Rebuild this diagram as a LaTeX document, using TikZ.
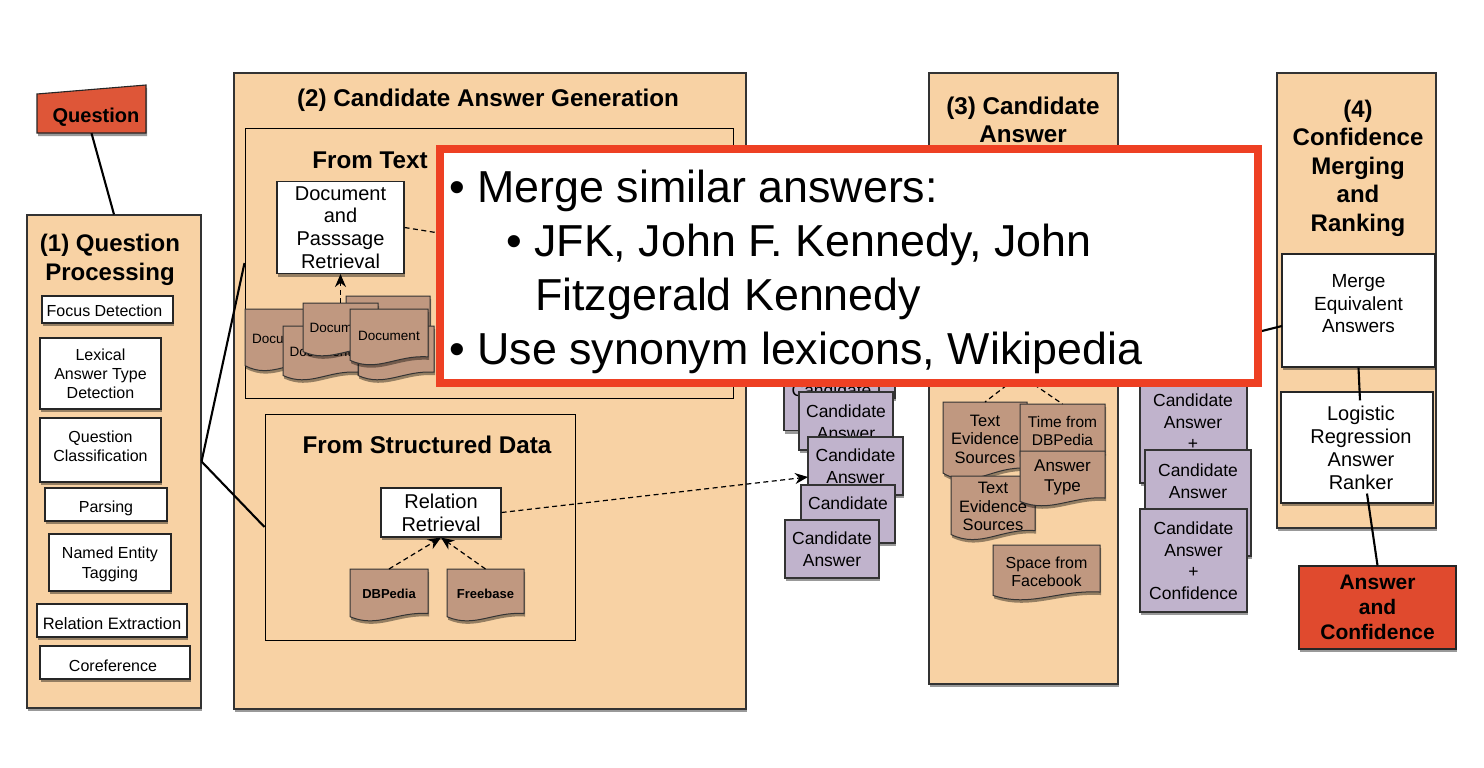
\documentclass[tikz,border=0pt]{standalone}
\usepackage{fontspec}
\setmainfont{Liberation Sans}
\usepackage{tikz}
\usetikzlibrary{arrows.meta, calc, shadows}

\definecolor{tanfill}{HTML}{F8D2A4}
\definecolor{docfill}{HTML}{C09880}
\definecolor{candfill}{HTML}{C0B3CC}
\definecolor{qred}{HTML}{DE5638}
\definecolor{ansred}{HTML}{E04A2E}
\definecolor{framered}{HTML}{EE4023}

\tikzset{
  sz/.style 2 args={font=\fontsize{#1}{#2}\selectfont},
  softshadow/.style={drop shadow={shadow xshift=1pt, shadow yshift=-3pt, fill=black, opacity=0.4}},
  tanbox/.style={draw=black!80, fill=tanfill, line width=1.1pt, inner sep=0pt, softshadow},
  innerframe/.style={draw=black, line width=1pt, inner sep=0pt},
  whitebox/.style={draw=black!85, fill=white, line width=1.1pt, inner sep=0pt, align=center, softshadow},
  candbox/.style={draw=black!80, fill=candfill, line width=1.1pt, inner sep=0pt, align=center, softshadow, sz={17.5}{21.5}},
  docsheet/.style={draw=black!80, fill=docfill, line width=1pt, softshadow},
  title/.style={align=center, inner sep=0pt, font=\bfseries\fontsize{24.2}{28.5}\selectfont},
  link/.style={draw=black, line width=2.1pt},
  dashlink/.style={draw=black, line width=1.2pt, dash pattern=on 5pt off 3.5pt, -{Stealth[length=13pt,width=11pt]}},
  pointtext/.style={anchor=base west, inner sep=0pt, sz={44.8}{54}},
}

% document sheet with a wavy lower edge
\newcommand{\docnode}[7][]{%
  \pgfmathsetmacro{\dw}{#5-#3}
  \pgfmathsetmacro{\dh}{#6-#4}
  \path[docsheet] (#3,#4) -- (#5,#4) -- (#5,#6-0.16*\dh)
    .. controls (#3+0.6*\dw,#6-0.2*\dh) and (#3+0.35*\dw,#6+0.12*\dh) .. (#3,#6-0.1*\dh) -- cycle;
  \node[inner sep=0pt, align=center, #1] (#2) at ({(#3+#5)/2},{#4+0.47*\dh}) {#7};
}

\begin{document}
\begin{tikzpicture}[x=1pt, y=-1pt]
  \useasboundingbox (0,0) rectangle (1484,768);
  \fill[white] (0,0) rectangle (1484,768);

  % question and (1)
  \path[fill=qred, draw=black!85, line width=1.1pt, softshadow] (37,94) -- (146,85) -- (146,133) -- (37,133) -- cycle;
  \node[inner sep=0pt, minimum width=109pt, minimum height=48pt] (question) at (91.5,109) {};
  \node[inner sep=0pt, font=\bfseries\fontsize{20}{24}\selectfont] (questionlabel) at (96,117.5) {Question};

  \node[tanbox, minimum width=174pt, minimum height=493pt] (proc) at (114,461.5) {};
  \node[title, font=\bfseries\fontsize{24}{29}\selectfont] (proctitle) at (110,260) {(1) Question\\Processing};
  \node[whitebox, sz={16}{19}, minimum width=131pt, minimum height=27pt, text height=14pt] (focus) at (107.5,309.5) {Focus Detection\hspace{6pt}};
  \node[whitebox, sz={16}{19}, minimum width=121pt, minimum height=71pt] (lexical) at (100.5,373.5) {Lexical\\Answer Type\\Detection};
  \node[whitebox, sz={16}{19}, minimum width=121pt, minimum height=64pt, text depth=8pt] (classif) at (100.5,450) {Question\\Classification};
  \node[whitebox, sz={16}{19}, minimum width=122pt, minimum height=33pt, text height=19.6pt] (parsing) at (106,504.5) {Parsing};
  \node[whitebox, sz={16}{20}, minimum width=122pt, minimum height=57pt, text height=36pt] (entity) at (110,562.5) {Named Entity\\Tagging};
  \node[whitebox, sz={16.5}{19}, minimum width=150pt, minimum height=33pt, text height=18pt] (relextr) at (112,620.5) {Relation Extraction};
  \node[whitebox, sz={16}{19}, minimum width=150pt, minimum height=33pt, text height=17.5pt] (coref) at (115,662.5) {Coreference\hspace{4pt}};

  % (2)
  \node[tanbox, minimum width=512pt, minimum height=636pt] (gen) at (490,391) {};
  \node[title] (gentitle) at (488,100) {(2) Candidate Answer Generation};
  \node[innerframe, minimum width=488pt, minimum height=270pt] (fromtext) at (489,263) {};
  \node[title] (fromtexttitle) at (370,160.5) {From Text};
  \node[whitebox, sz={20}{22.7}, minimum width=127pt, minimum height=92pt] (docret) at (340.5,227.5) {Document\\and\\Passsage\\Retrieval};

  \docnode[sz={13.5}{17}]{docone}{245}{309}{321}{372}{Document}
  \docnode[sz={13.5}{17}]{docfive}{346}{296}{430}{350}{}
  \docnode[sz={13.5}{17}]{docfour}{358}{326}{434}{381}{Document}
  \docnode[sz={13.5}{17}]{doctwo}{283}{326}{358}{381}{Document}
  \docnode[sz={13.5}{17}]{docthree}{303}{303}{378}{357}{Document}
  \docnode[sz={13.5}{17}]{docfront}{350}{309}{428}{366}{Document}

  \node[innerframe, minimum width=310pt, minimum height=226pt] (structured) at (420,527) {};
  \node[title] (structuredtitle) at (427,445) {From Structured Data};
  \node[whitebox, sz={20}{23}, minimum width=120pt, minimum height=49pt] (relretr) at (441,512.5) {Relation\\Retrieval};
  \docnode[font=\bfseries\fontsize{13}{16}\selectfont]{dbpedia}{350}{569}{428}{622}{DBPedia}
  \docnode[font=\bfseries\fontsize{13}{16}\selectfont]{freebase}{447}{569}{524}{622}{Freebase}

  % candidates
  \node[candbox, minimum width=95pt, minimum height=58pt] (candback) at (847.5,369) {};
  \node[candbox, minimum width=95pt, minimum height=61pt, text depth=20pt] (candzero) at (831.5,400) {Candidate};
  \node[candbox, minimum width=94pt, minimum height=58pt, text height=46pt, text depth=10pt] (candone) at (846,421) {Candidate\\Answer};
  \node[candbox, minimum width=95pt, minimum height=58pt] (candtwo) at (855.5,466) {Candidate\\Answer};
  \node[candbox, minimum width=94pt, minimum height=58pt, text depth=21pt] (candthree) at (848,514) {Candidate};
  \node[candbox, minimum width=94pt, minimum height=58pt] (candfour) at (832,549) {Candidate\\Answer};

  % (3)
  \node[tanbox, minimum width=189pt, minimum height=611pt] (evid) at (1023.5,378.5) {};
  \node[title, font=\bfseries\fontsize{24.2}{28}\selectfont] (evidtitle) at (1023,119.5) {(3) Candidate\\Answer};
  \docnode[sz={16.5}{18.5}]{textone}{943}{402}{1027}{481}{Text\\Evidence\\Sources}
  \docnode[sz={16.5}{18.5}]{texttwo}{951}{476}{1035}{541}{Text\\Evidence\\Sources}
  \docnode[sz={15.5}{18}]{timedoc}{1020}{404}{1105}{462}{Time from\\DBPedia}
  \docnode[sz={17}{20}]{typedoc}{1020}{451}{1105}{507}{Answer\\Type}
  \docnode[sz={16}{18}]{spacedoc}{993}{545}{1100}{601}{Space from\\Facebook}

  % scored candidates
  \node[candbox, minimum width=107pt, minimum height=108pt] (scoreone) at (1193.5,429) {};
  \node[inner sep=0pt, align=center, sz={17.5}{21.5}] (scoreonetext) at (1193,422) {Candidate\\Answer\\+};
  \node[candbox, minimum width=106pt, minimum height=106pt, text depth=44pt] (scoretwo) at (1198,503) {Candidate\\Answer};
  \node[candbox, minimum width=107pt, minimum height=103pt] (scorethree) at (1193.5,560.5) {Candidate\\Answer\\+\\Confidence};

  % (4)
  \node[tanbox, minimum width=159pt, minimum height=455pt] (rank) at (1356.5,300.5) {};
  \node[title, font=\bfseries\fontsize{24}{28.5}\selectfont] (ranktitle) at (1358,168) {(4)\\Confidence\\Merging\\and\\Ranking};
  \node[whitebox, sz={19}{22.5}, minimum width=153pt, minimum height=113pt, text depth=14pt] (merge) at (1358.5,310.5) {Merge\\Equivalent\\Answers};
  \node[whitebox, sz={20}{23}, minimum width=152pt, minimum height=111pt] (logistic) at (1357,447.5) {};
  \node[inner sep=0pt, align=center, sz={20}{23}] (logistictext) at (1361,447.5) {Logistic\\Regression\\Answer\\Ranker};
  \node[draw=black!85, fill=ansred, line width=1.1pt, inner sep=0pt, align=center, softshadow, font=\bfseries\fontsize{21}{25}\selectfont, minimum width=157pt, minimum height=83pt] (answer) at (1377.5,607.5) {Answer\\and\\Confidence};

  % connectors
  \coordinate (retrout) at (445,234);
  \coordinate (candin) at (808,477);
  \coordinate (evidsrc) at (1020,375);
  \coordinate (scoreout) at (1250,334);
  \coordinate (mergein) at (1282,326);
  \draw[link] (question.south) -- (proc.north);
  \draw[link] (proc.east) -- (fromtext.west);
  \draw[link] (proc.east) -- (structured.west);
  \draw[dashlink] (docthree.north |- 0,303) -- (docret.south);
  \draw[dashlink, -] (docret.east) -- (retrout);
  \draw[dashlink] (dbpedia.north |- 0,569) -- (relretr.south);
  \draw[dashlink] (freebase.north |- 0,569) -- (relretr.south);
  \draw[dashlink] (relretr.east) -- (candin);
  \draw[dashlink, -] (evidsrc) -- (textone.north |- 0,402);
  \draw[dashlink, -] (evidsrc) -- (timedoc.north |- 0,404);
  \draw[link] (scoreout) -- (mergein);
  \draw[link] (merge.south) -- ($(logistic.north)+(3,9)$);
  \draw[link] ($(logistic.south)+(10,-10)$) -- (answer.north);

  % overlay
  \node[draw=framered, fill=white, line width=8pt, inner sep=0pt, minimum width=818pt, minimum height=234pt] (overlay) at (849,266) {};
  \node[pointtext] (pointone) at (449,202) {• Merge similar answers:};
  \node[pointtext] (pointtwo) at (506,256) {• JFK, John F. Kennedy, John};
  \node[pointtext] (pointthree) at (535,310) {Fitzgerald Kennedy};
  \node[pointtext] (pointfour) at (449,364) {• Use synonym lexicons, Wikipedia};
\end{tikzpicture}
\end{document}
